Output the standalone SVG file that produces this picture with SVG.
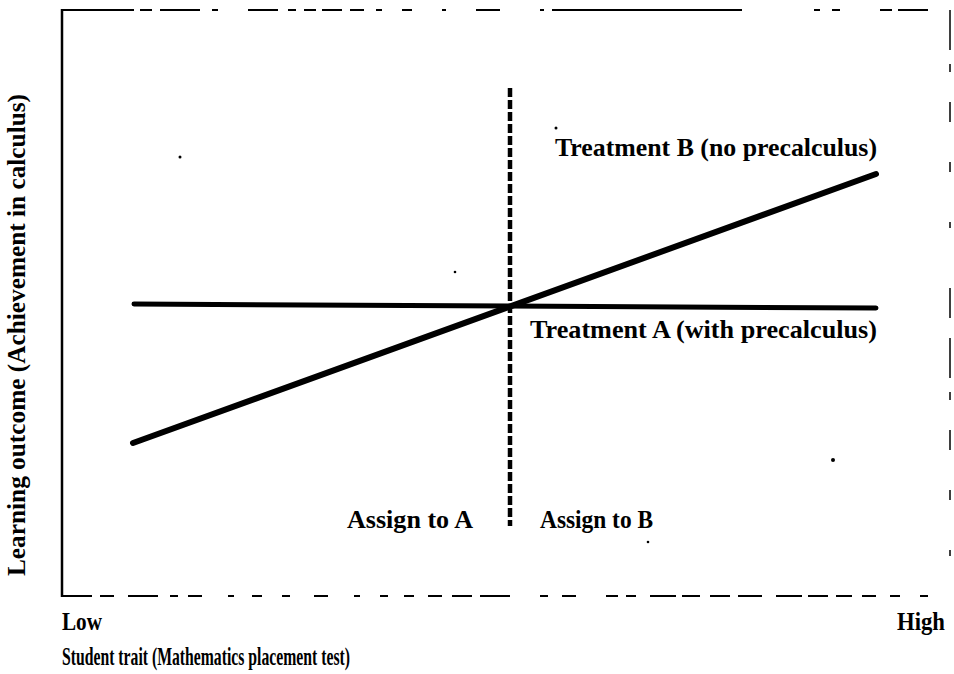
<svg xmlns="http://www.w3.org/2000/svg" width="954" height="674" viewBox="0 0 954 674">
  <style>
    .lbl { font-family: "Liberation Serif", "Times New Roman", serif; font-weight: bold; font-size: 26px; fill: #000; }
    .frame { stroke: #000; fill: none; }
    .trend { stroke: #000; fill: none; stroke-linecap: round; }
  </style>
  <rect width="954" height="674" fill="#fff"/>

  <!-- plot frame -->
  <g id="frame">
    <line class="frame" x1="62" y1="9" x2="62" y2="597" stroke-width="2.5"/>
    <line class="frame" x1="62" y1="10" x2="950" y2="10" stroke-width="2" stroke-dasharray="72 6 12 8 40 12 6 30 30 10 8 8 12 6 20 8 14 12 6 20 10 30 4 30 24 40 4 8 190"/>
    <line class="frame" x1="62" y1="596" x2="950" y2="596" stroke-width="2" stroke-dasharray="30 8 14 14 30 12 8 10 14 26 6 18 10 20 8 24 14 26 6 20 8 16 10 14 14 10 20 8 30"/>
    <line class="frame" x1="950" y1="10" x2="950" y2="596" stroke-width="1.5" stroke-dasharray="40 14 8 30 20 40 10 50 6 60 30 20"/>
  </g>

  <!-- regression lines and cut-off -->
  <g id="connectors">
    <line id="treatmentA" class="trend" x1="134" y1="304" x2="876" y2="308" stroke-width="5"/>
    <line id="treatmentB" class="trend" x1="133" y1="443" x2="876" y2="174" stroke-width="6"/>
    <line id="cutoff" x1="510" y1="88" x2="510" y2="526" stroke="#000" stroke-width="4.5" stroke-dasharray="9 3"/>
  </g>

  <!-- labels -->
  <g id="labelB"><text class="lbl" x="555" y="156" textLength="322" lengthAdjust="spacingAndGlyphs">Treatment B (no precalculus)</text></g>
  <g id="labelA"><text class="lbl" x="530" y="338" textLength="347" lengthAdjust="spacingAndGlyphs">Treatment A (with precalculus)</text></g>
  <g id="assignA"><text class="lbl" x="347" y="528" textLength="126" lengthAdjust="spacingAndGlyphs">Assign to A</text></g>
  <g id="assignB"><text class="lbl" x="540" y="528" textLength="113" lengthAdjust="spacingAndGlyphs">Assign to B</text></g>
  <g id="low"><text class="lbl" x="62" y="630" textLength="40" lengthAdjust="spacingAndGlyphs">Low</text></g>
  <g id="high"><text class="lbl" x="897" y="630" textLength="48" lengthAdjust="spacingAndGlyphs">High</text></g>
  <g id="xaxis"><text class="lbl" x="62" y="665" textLength="288" lengthAdjust="spacingAndGlyphs">Student trait (Mathematics placement test)</text></g>
  <g id="yaxis"><text class="lbl" transform="translate(25,576) rotate(-90)" textLength="482" lengthAdjust="spacingAndGlyphs">Learning outcome (Achievement in calculus)</text></g>

  <!-- stray specks -->
  <g id="specks" fill="#000">
    <circle cx="180" cy="157" r="1.5"/>
    <circle cx="455" cy="272" r="1.3"/>
    <circle cx="833" cy="460" r="2"/>
    <circle cx="556" cy="128" r="1.5"/>
    <circle cx="648" cy="542" r="1.3"/>
  </g>
</svg>
